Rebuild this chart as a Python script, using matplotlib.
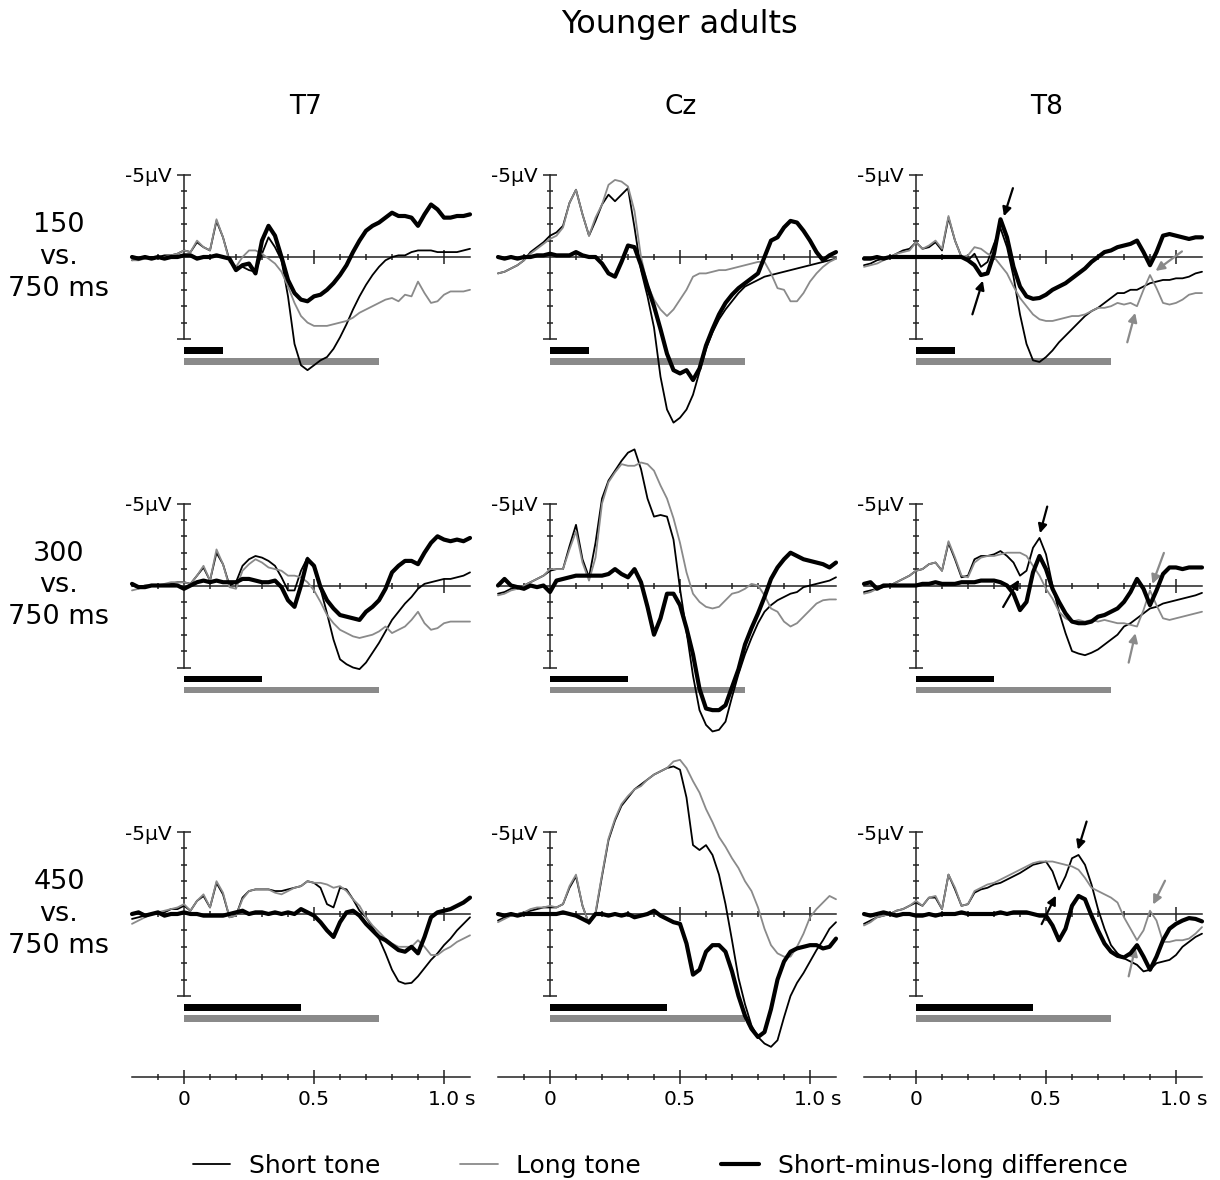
import numpy as np
import matplotlib.pyplot as plt

plt.rcParams['font.family'] = ['DejaVu Sans']

# sample times (s), one value every 25 ms
time = np.round(np.arange(-0.2, 1.1001, 0.025), 3)

channels = ['T7', 'Cz', 'T8']
short_durations = [0.15, 0.30, 0.45]
long_duration = 0.75
row_labels = ['150\nvs.\n750 ms', '300\nvs.\n750 ms', '450\nvs.\n750 ms']

# ---- 150 vs 750 ms (µV, negative up) ----
t7_150_short = [0.2, 0.1, 0.1, 0.0, 0.0, -0.1, -0.1, -0.2,
                -0.4, -0.3, -0.9, -0.6, -0.4, -2.2, -1.2, 0.2,
                0.6, 0.6, 0.8, 0.9, -0.2, -1.2, -0.6, 0.2,
                2.4, 5.3, 6.6, 6.9, 6.6, 6.3, 6.1, 5.6,
                4.9, 4.1, 3.2, 2.4, 1.7, 1.1, 0.6, 0.2,
                0.0, -0.1, -0.1, -0.3, -0.4, -0.4, -0.4, -0.3,
                -0.3, -0.3, -0.3, -0.4, -0.5]
t7_150_long = [0.2, 0.2, 0.1, 0.1, 0.0, 0.0, -0.1, -0.2,
               -0.4, -0.3, -1.0, -0.6, -0.4, -2.3, -1.2, 0.3,
               0.6, 0.0, -0.4, -0.4, -0.2, 0.1, 0.4, 0.9,
               1.8, 2.8, 3.6, 4.0, 4.2, 4.2, 4.2, 4.1,
               4.0, 3.9, 3.7, 3.4, 3.2, 3.0, 2.8, 2.6,
               2.5, 2.7, 2.3, 2.4, 1.5, 2.2, 2.8, 2.7,
               2.3, 2.1, 2.1, 2.1, 2.0]
t7_150_diff = [0.0, 0.1, 0.0, 0.1, 0.0, 0.1, 0.0, 0.0,
               -0.1, -0.1, 0.1, 0.0, 0.0, -0.1, 0.0, 0.1,
               0.8, 0.5, 0.4, 1.0, -1.0, -1.9, -1.3, 0.0,
               1.4, 2.2, 2.6, 2.7, 2.4, 2.3, 2.0, 1.6,
               1.1, 0.5, -0.3, -1.0, -1.6, -1.9, -2.1, -2.4,
               -2.7, -2.5, -2.5, -2.4, -1.9, -2.6, -3.2, -2.9,
               -2.4, -2.4, -2.5, -2.5, -2.6]

cz_150_short = [1.0, 0.9, 0.7, 0.5, 0.2, -0.3, -0.6, -0.9,
                -1.3, -1.5, -1.9, -3.3, -4.1, -2.6, -1.3, -2.2,
                -3.2, -3.8, -3.4, -3.8, -4.2, -1.8, 0.8, 2.4,
                4.3, 7.3, 9.3, 10.1, 9.8, 9.3, 8.4, 7.0,
                5.6, 4.6, 3.8, 3.2, 2.7, 2.2, 1.8, 1.6,
                1.4, 1.2, 1.1, 1.0, 0.9, 0.8, 0.7, 0.6,
                0.5, 0.4, 0.3, 0.2, 0.1]
cz_150_long = [1.0, 0.9, 0.7, 0.5, 0.2, -0.2, -0.5, -0.8,
               -1.1, -1.3, -1.8, -3.3, -4.1, -2.6, -1.3, -2.4,
               -3.2, -4.4, -4.7, -4.6, -4.3, -2.8, 0.0, 1.7,
               2.6, 3.2, 3.6, 3.2, 2.6, 2.0, 1.2, 1.0,
               1.0, 0.9, 0.8, 0.8, 0.7, 0.6, 0.5, 0.4,
               0.3, 0.3, 1.0, 1.9, 2.0, 2.7, 2.7, 2.2,
               1.5, 1.0, 0.6, 0.3, 0.1]
cz_150_diff = [0.0, 0.1, 0.0, 0.1, 0.0, 0.0, -0.1, -0.1,
               -0.2, -0.1, -0.1, -0.1, -0.3, -0.1, 0.0, 0.0,
               0.4, 1.0, 1.2, 0.3, -0.7, -0.6, 0.5, 1.8,
               3.0, 4.4, 5.9, 6.9, 7.1, 6.9, 7.5, 6.8,
               5.4, 4.4, 3.5, 2.8, 2.3, 1.9, 1.6, 1.3,
               1.0, 0.0, -1.0, -1.2, -1.8, -2.2, -2.1, -1.6,
               -1.0, -0.3, 0.2, -0.1, -0.3]

t8_150_short = [0.5, 0.4, 0.2, 0.1, 0.0, -0.2, -0.4, -0.5,
                -0.9, -0.5, -0.6, -0.9, -0.4, -2.4, -1.0, 0.0,
                0.2, -0.2, 0.6, 0.3, -0.8, -1.75, -0.6, 1.2,
                3.5, 5.3, 6.3, 6.4, 6.1, 5.7, 5.2, 4.8,
                4.4, 4.0, 3.6, 3.3, 3.1, 2.8, 2.5, 2.2,
                2.2, 2.0, 2.0, 1.8, 1.6, 1.5, 1.4, 1.4,
                1.3, 1.3, 1.2, 1.0, 0.9]
t8_150_long = [0.6, 0.5, 0.4, 0.2, 0.0, -0.2, -0.3, -0.4,
               -0.9, -0.5, -0.7, -1.0, -0.5, -2.5, -1.0, 0.0,
               -0.1, -0.6, -0.5, -0.2, 0.0, 0.5, 1.0, 1.8,
               2.5, 3.0, 3.5, 3.8, 3.9, 3.9, 3.8, 3.7,
               3.6, 3.6, 3.5, 3.3, 3.1, 3.1, 3.0, 2.8,
               2.9, 2.8, 3.0, 2.0, 1.1, 1.9, 2.8, 2.9,
               2.8, 2.6, 2.3, 2.2, 2.2]
t8_150_diff = [0.1, 0.1, 0.0, 0.1, 0.0, 0.0, 0.0, 0.0,
               0.0, 0.0, 0.0, 0.0, 0.0, 0.0, 0.0, 0.0,
               0.2, 0.5, 1.1, 1.0, -0.2, -2.3, -1.2, 0.6,
               1.8, 2.4, 2.55, 2.5, 2.3, 2.0, 1.8, 1.6,
               1.3, 1.0, 0.7, 0.3, 0.0, -0.3, -0.4, -0.6,
               -0.7, -0.8, -1.0, -0.3, 0.5, -0.3, -1.3, -1.4,
               -1.3, -1.2, -1.1, -1.2, -1.2]

# ---- 300 vs 750 ms ----
t7_300_short = [0.0, 0.1, 0.0, 0.0, 0.0, 0.0, -0.1, -0.2,
                -0.2, -0.1, -0.6, -1.1, -0.3, -2.0, -1.3, 0.0,
                -0.2, -1.2, -1.6, -1.8, -1.7, -1.5, -1.2, -0.5,
                0.3, 0.3, -0.9, -1.7, -1.1, 0.2, 1.7, 3.3,
                4.5, 4.8, 5.0, 5.1, 4.7, 4.1, 3.5, 2.8,
                2.1, 1.6, 1.1, 0.7, 0.2, -0.1, -0.2, -0.3,
                -0.4, -0.4, -0.5, -0.6, -0.8]
t7_300_long = [0.3, 0.2, 0.0, 0.0, 0.0, -0.1, -0.2, -0.2,
               -0.2, -0.1, -0.6, -1.2, -0.3, -2.2, -1.3, 0.1,
               0.2, -0.9, -1.3, -1.6, -1.4, -1.1, -1.0, -0.9,
               -0.6, -0.6, -0.5, -0.2, 0.3, 1.0, 1.8, 2.3,
               2.7, 2.9, 3.1, 3.2, 3.1, 3.0, 2.8, 2.5,
               2.9, 2.7, 2.5, 2.1, 1.6, 2.3, 2.7, 2.6,
               2.3, 2.2, 2.2, 2.2, 2.2]
t7_300_diff = [-0.1, 0.1, 0.1, 0.0, 0.0, 0.0, 0.0, 0.0,
               0.2, 0.0, -0.2, -0.3, -0.2, -0.3, -0.2, -0.2,
               -0.2, -0.4, -0.4, -0.3, -0.2, -0.2, -0.3, 0.1,
               0.9, 1.3, 0.0, -1.6, -1.2, 0.1, 0.9, 1.4,
               1.8, 1.9, 2.0, 2.1, 1.6, 1.3, 0.9, 0.2,
               -0.8, -1.2, -1.5, -1.5, -1.3, -2.0, -2.6, -3.0,
               -2.8, -2.7, -2.8, -2.7, -2.9]

cz_300_short = [0.5, 0.4, 0.2, 0.2, 0.0, -0.2, -0.4, -0.6,
                -0.9, -1.0, -1.0, -2.4, -3.7, -1.6, -0.5, -2.6,
                -5.3, -6.4, -7.0, -7.6, -8.1, -8.3, -7.1, -5.3,
                -4.2, -4.3, -4.2, -2.8, 0.2, 2.8, 5.5, 7.6,
                8.5, 8.9, 8.8, 8.3, 6.8, 5.4, 4.2, 3.2,
                2.3, 1.6, 1.2, 0.9, 0.7, 0.5, 0.4, 0.1,
                0.0, -0.1, -0.2, -0.3, -0.5]
cz_300_long = [0.6, 0.5, 0.3, 0.2, 0.0, -0.2, -0.4, -0.6,
               -1.0, -1.0, -1.0, -2.2, -3.3, -1.4, -0.3, -1.7,
               -5.0, -6.3, -6.9, -7.4, -7.3, -7.3, -7.5, -7.4,
               -7.0, -6.1, -5.3, -4.1, -2.6, -0.8, 0.5, 1.0,
               1.3, 1.4, 1.3, 0.9, 0.5, 0.4, 0.2, -0.1,
               0.0, 0.6, 1.4, 1.6, 2.2, 2.5, 2.3, 1.9,
               1.5, 1.1, 0.9, 0.85, 0.85]
cz_300_diff = [0.0, -0.4, 0.0, 0.1, 0.2, 0.0, 0.1, 0.0,
               0.4, -0.3, -0.4, -0.5, -0.6, -0.6, -0.6, -0.6,
               -0.6, -0.7, -1.0, -0.7, -0.5, -1.0, -0.2, 1.3,
               3.0, 2.0, 0.5, 0.5, 1.2, 2.6, 4.2, 6.3,
               7.5, 7.6, 7.6, 7.3, 6.2, 5.1, 3.6, 2.6,
               1.7, 0.7, -0.4, -1.1, -1.6, -2.0, -1.8, -1.6,
               -1.5, -1.4, -1.3, -1.1, -1.4]

t8_300_short = [0.4, 0.3, 0.2, 0.1, 0.0, -0.2, -0.4, -0.6,
                -0.9, -1.0, -1.3, -1.4, -0.9, -2.6, -1.6, -0.5,
                -0.6, -1.6, -1.8, -1.8, -1.9, -2.1, -1.8, -1.4,
                -0.6, -0.9, -2.3, -2.9, -1.9, 0.0, 1.6, 2.9,
                4.0, 4.15, 4.25, 4.1, 3.9, 3.6, 3.3, 3.0,
                2.5, 2.3, 2.0, 1.7, 1.4, 1.3, 1.1, 1.0,
                0.9, 0.8, 0.7, 0.6, 0.45]
t8_300_long = [0.5, 0.4, 0.2, 0.0, 0.0, -0.2, -0.4, -0.6,
               -0.9, -1.0, -1.3, -1.4, -0.9, -2.7, -1.7, -0.6,
               -0.5, -1.4, -1.7, -1.8, -1.8, -1.9, -2.0, -2.0,
               -2.0, -1.8, -1.2, -0.6, 0.2, 0.8, 1.6, 2.0,
               2.2, 2.1, 2.2, 2.1, 2.2, 2.1, 2.2, 2.3,
               2.3, 2.4, 2.5, 1.5, 0.3, 1.2, 2.0, 2.1,
               2.0, 1.9, 1.8, 1.7, 1.6]
t8_300_diff = [-0.1, -0.2, 0.2, 0.0, 0.0, 0.0, 0.0, 0.0,
               0.0, -0.1, -0.1, -0.2, -0.1, -0.1, -0.1, -0.2,
               -0.2, -0.2, -0.3, -0.3, -0.3, -0.2, 0.0, 0.5,
               1.5, 1.0, -0.8, -1.8, -1.0, 0.2, 1.0, 1.7,
               2.2, 2.3, 2.3, 2.2, 1.9, 1.8, 1.6, 1.4,
               1.0, 0.4, -0.4, 0.2, 1.2, 0.3, -0.7, -1.1,
               -1.1, -1.0, -1.1, -1.1, -1.1]

# ---- 450 vs 750 ms ----
t7_450_short = [0.3, 0.2, 0.1, 0.0, 0.0, -0.1, -0.3, -0.3,
                -0.5, -0.2, -0.8, -1.1, -0.4, -1.9, -1.2, 0.2,
                0.1, -1.0, -1.4, -1.5, -1.5, -1.5, -1.4, -1.4,
                -1.5, -1.6, -1.7, -2.0, -1.9, -1.6, -0.6, -0.4,
                -1.6, -1.5, -0.9, -0.2, 0.2, 0.8, 1.5, 2.4,
                3.4, 4.1, 4.25, 4.2, 3.8, 3.3, 2.8, 2.4,
                1.9, 1.5, 1.0, 0.6, 0.2]
t7_450_long = [0.6, 0.4, 0.2, 0.0, -0.1, -0.2, -0.3, -0.4,
               -0.6, -0.2, -0.8, -1.2, -0.4, -2.0, -1.3, 0.2,
               0.1, -0.9, -1.4, -1.5, -1.5, -1.5, -1.3, -1.2,
               -1.4, -1.6, -1.7, -2.0, -1.9, -1.9, -1.8, -1.6,
               -1.7, -1.4, -0.9, -0.5, 0.2, 0.7, 1.1, 1.5,
               1.8, 2.0, 2.0, 2.0, 1.6, 2.0, 2.5, 2.5,
               2.2, 2.0, 1.7, 1.5, 1.3]
t7_450_diff = [0.0, -0.1, 0.1, 0.0, -0.1, 0.1, 0.0, 0.0,
               -0.1, 0.0, 0.0, 0.1, 0.1, 0.1, 0.1, 0.0,
               -0.1, -0.2, 0.0, -0.1, -0.1, 0.0, -0.1, 0.0,
               -0.1, 0.0, -0.3, -0.1, 0.1, 0.5, 1.0, 1.4,
               0.5, -0.1, -0.2, 0.1, 0.6, 1.0, 1.4, 1.6,
               1.9, 2.2, 2.3, 2.0, 2.4, 1.4, 0.2, -0.1,
               -0.2, -0.3, -0.5, -0.7, -1.0]

cz_450_short = [0.4, 0.2, 0.1, 0.0, -0.1, -0.2, -0.3, -0.4,
                -0.4, -0.4, -0.6, -1.6, -2.3, -0.5, 0.6, 0.0,
                -2.3, -4.5, -5.7, -6.6, -7.1, -7.6, -7.9, -8.2,
                -8.5, -8.7, -8.9, -9.0, -8.8, -7.1, -4.2, -3.9,
                -4.2, -3.6, -2.4, -0.6, 1.6, 3.9, 5.5, 6.8,
                7.5, 7.9, 8.1, 7.7, 6.3, 5.0, 4.2, 3.6,
                2.9, 2.2, 1.6, 0.9, 0.5]
cz_450_long = [0.5, 0.3, 0.1, 0.0, -0.1, -0.3, -0.4, -0.4,
               -0.5, -0.4, -0.6, -1.7, -2.4, -0.5, 0.6, -0.1,
               -2.4, -4.6, -5.8, -6.7, -7.2, -7.6, -7.8, -8.2,
               -8.5, -8.7, -8.9, -9.3, -9.4, -8.9, -8.1, -7.4,
               -6.4, -5.6, -4.7, -4.1, -3.4, -2.8, -2.0, -1.4,
               -0.4, 0.9, 1.9, 2.4, 2.6, 2.6, 2.0, 1.2,
               0.2, -0.3, -0.7, -1.1, -0.9]
cz_450_diff = [0.0, 0.1, 0.0, 0.1, 0.0, 0.0, 0.0, 0.0,
               0.0, 0.0, -0.1, 0.0, 0.1, 0.3, 0.5, 0.0,
               0.0, 0.1, 0.0, 0.1, 0.0, 0.2, 0.1, 0.0,
               -0.2, 0.1, 0.3, 0.5, 0.6, 1.8, 3.7, 3.4,
               2.3, 1.9, 1.9, 2.3, 3.5, 5.0, 6.2, 7.0,
               7.5, 7.2, 5.8, 4.0, 2.9, 2.3, 2.1, 2.0,
               1.9, 1.9, 2.1, 2.0, 1.5]

t8_450_short = [0.6, 0.4, 0.2, 0.1, 0.0, -0.2, -0.3, -0.5,
                -0.7, -0.5, -1.0, -1.0, -0.3, -2.4, -1.5, -0.5,
                -0.6, -1.3, -1.5, -1.6, -1.8, -1.9, -2.1, -2.3,
                -2.5, -2.75, -3.0, -3.1, -3.2, -2.6, -1.5, -2.3,
                -3.4, -3.6, -3.0, -1.8, -0.3, 0.9, 1.9, 2.4,
                2.7, 2.9, 3.1, 3.5, 3.4, 3.0, 2.9, 2.8,
                2.5, 2.0, 1.7, 1.4, 1.2]
t8_450_long = [0.7, 0.5, 0.2, 0.1, 0.0, -0.2, -0.3, -0.5,
               -0.8, -0.5, -1.0, -1.1, -0.3, -2.4, -1.6, -0.5,
               -0.6, -1.4, -1.6, -1.8, -1.9, -2.1, -2.3, -2.5,
               -2.7, -2.9, -3.1, -3.2, -3.2, -3.2, -3.1, -3.0,
               -2.9, -2.7, -2.2, -1.6, -1.4, -1.2, -1.0, -0.7,
               0.2, 0.9, 1.6, 1.0, -0.2, 0.4, 1.7, 1.7,
               1.6, 1.6, 1.5, 1.2, 0.8]
t8_450_diff = [0.0, 0.1, 0.0, -0.1, 0.0, 0.1, 0.0, 0.0,
               0.1, 0.1, 0.0, 0.1, 0.0, 0.0, 0.0, -0.1,
               0.0, 0.0, 0.0, 0.0, 0.0, -0.1, 0.0, -0.1,
               -0.1, -0.1, 0.0, 0.1, 0.1, 0.7, 1.6, 0.9,
               -0.5, -1.1, -0.9, 0.1, 1.0, 1.8, 2.3, 2.55,
               2.65, 2.4, 1.9, 2.6, 3.4, 2.6, 1.6, 0.9,
               0.6, 0.4, 0.25, 0.3, 0.45]

waves = [
    [(t7_150_short, t7_150_long, t7_150_diff),
     (cz_150_short, cz_150_long, cz_150_diff),
     (t8_150_short, t8_150_long, t8_150_diff)],
    [(t7_300_short, t7_300_long, t7_300_diff),
     (cz_300_short, cz_300_long, cz_300_diff),
     (t8_300_short, t8_300_long, t8_300_diff)],
    [(t7_450_short, t7_450_long, t7_450_diff),
     (cz_450_short, cz_450_long, cz_450_diff),
     (t8_450_short, t8_450_long, t8_450_diff)],
]

# arrows on T8: (series index 0=short 1=long 2=diff, time, tail offset in points)
t8_arrows = [
    [(2, 0.33, (8, 25)), (2, 0.265, (-9, -29)),
     (1, 0.9, (23, 17)), (1, 0.85, (-7, -26))],
    [(0, 0.47, (6.5, 24)), (0, 0.41, (-14, -24)),
     (1, 0.9, (10, 27)), (1, 0.85, (-6, -26))],
    [(0, 0.615, (7.7, 25)), (0, 0.55, (-12.5, -25)),
     (1, 0.9, (10.8, 21.6)), (1, 0.85, (-6, -26))],
]

GRAY = '#8a8a8a'
AXC = '#222222'
W, H, DPI = 1220, 1180, 100
PX_S = 260.0      # pixels per second
PX_UV = 16.4      # pixels per microvolt
V_LIM = 11
col_left = [132, 498, 864]
row_zero = [257, 585.5, 914]

fig = plt.figure(figsize=(W / DPI, H / DPI), dpi=DPI)


def px_axes(left, top, width, height):
    return fig.add_axes([left / W, 1 - (top + height) / H, width / W, height / H])


minor_t = [-0.1, 0.1, 0.2, 0.3, 0.4, 0.6, 0.7, 0.8, 0.9]
legend_lines = None
line_kw = dict(clip_on=False, solid_joinstyle='round', solid_capstyle='round')

for r in range(3):
    for c in range(3):
        short, long_, diff = waves[r][c]
        ax = px_axes(col_left[c], row_zero[r] - V_LIM * PX_UV, 1.3 * PX_S, 2 * V_LIM * PX_UV)
        ax.patch.set_visible(False)
        ax.set_xlim(-0.2, 1.1)
        ax.set_ylim(V_LIM, -V_LIM)

        for side in ['top', 'right']:
            ax.spines[side].set_visible(False)
        ax.spines['left'].set_position(('data', 0))
        ax.spines['left'].set_bounds(-5, 5)
        ax.spines['bottom'].set_position(('data', 0))
        for side in ['left', 'bottom']:
            ax.spines[side].set_color(AXC)
            ax.spines[side].set_linewidth(1.1)

        ax.set_yticks([-5, 5])
        ax.set_yticklabels(['-5μV', ''])
        ax.set_yticks([-4, -3, -2, -1, 1, 2, 3, 4], minor=True)
        ax.set_xticks([0.5, 1.0])
        ax.set_xticklabels([])
        ax.set_xticks(minor_t, minor=True)
        ax.tick_params(which='major', direction='inout', length=10, width=1.1, color=AXC)
        ax.tick_params(which='minor', direction='inout', length=5, width=1.1, color=AXC)
        ax.tick_params(axis='y', labelsize=14.5, pad=4)

        # tone durations
        ax.barh([5.7], [short_durations[r]], left=0, height=0.4, color='black')
        ax.barh([6.37], [long_duration], left=0, height=0.4, color=GRAY)

        l1, = ax.plot(time, short, color='black', lw=1.3, zorder=3, **line_kw)
        l2, = ax.plot(time, long_, color=GRAY, lw=1.3, zorder=4, **line_kw)
        l3, = ax.plot(time, diff, color='black', lw=3.0, zorder=5, **line_kw)
        legend_lines = [l1, l2, l3]

        if c == 2:
            series = (short, long_, diff)
            for idx, t, off in t8_arrows[r]:
                col = GRAY if idx == 1 else 'black'
                v = np.interp(t, time, series[idx])
                ax.annotate('', xy=(t, v), xytext=off, textcoords='offset points',
                            annotation_clip=False,
                            arrowprops=dict(arrowstyle='-|>', color=col, lw=1.6,
                                            shrinkA=0, shrinkB=5, mutation_scale=13))

# time axes along the bottom
for c in range(3):
    ax_t = px_axes(col_left[c], 1075.5, 1.3 * PX_S, 1)
    ax_t.patch.set_visible(False)
    ax_t.set_xlim(-0.2, 1.1)
    for side in ['top', 'left', 'right']:
        ax_t.spines[side].set_visible(False)
    ax_t.spines['bottom'].set_color(AXC)
    ax_t.spines['bottom'].set_linewidth(1.1)
    ax_t.set_yticks([])
    ax_t.set_xticks([0, 0.5, 1.0])
    ax_t.set_xticklabels(['0', '0.5', '1.0'])
    ax_t.set_xticks(minor_t, minor=True)
    ax_t.tick_params(which='major', direction='inout', length=10, width=1.1,
                     color=AXC, labelsize=14.5, pad=5)
    ax_t.tick_params(which='minor', direction='inout', length=5, width=1.1, color=AXC)
    ax_t.annotate('s', xy=(1.1, 0), xycoords=('data', 'axes fraction'),
                  xytext=(0, -10), textcoords='offset points',
                  ha='center', va='top', fontsize=14.5)

fig.text(680 / W, 1 - 25 / H, 'Younger adults', ha='center', va='center', fontsize=23)
for x, name in zip([306, 681, 1047], channels):
    fig.text(x / W, 1 - 107 / H, name, ha='center', va='center', fontsize=19)
for y, lab in zip(row_zero, row_labels):
    fig.text(59 / W, 1 - y / H, lab, ha='center', va='center', fontsize=19.5,
             linespacing=1.28)

fig.legend(legend_lines, ['Short tone', 'Long tone', 'Short-minus-long difference'],
           loc='center', bbox_to_anchor=(660 / W, 1 - 1166 / H), ncol=3,
           frameon=False, fontsize=18, handlelength=1.5, handletextpad=0.75,
           columnspacing=3.2)

fig.savefig('out.png', dpi=DPI)
